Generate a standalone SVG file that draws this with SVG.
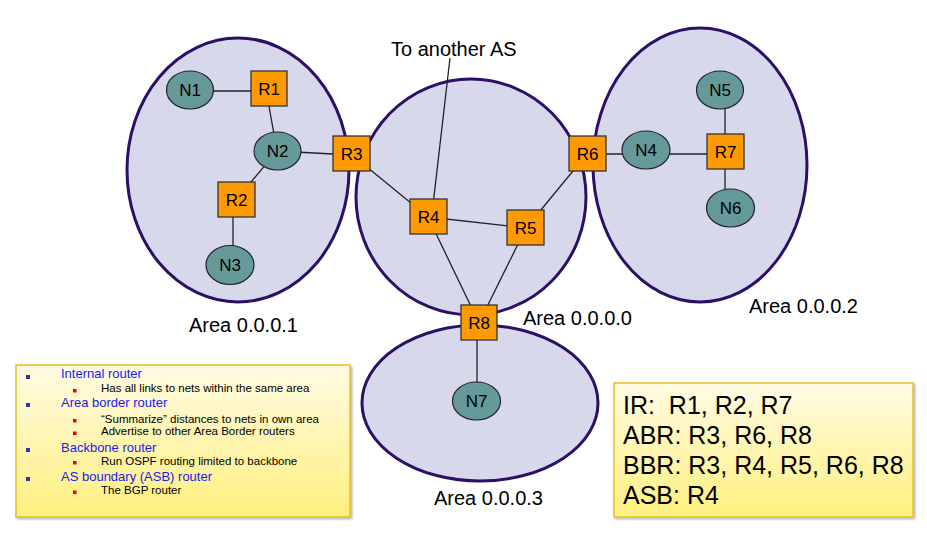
<svg xmlns="http://www.w3.org/2000/svg" width="927" height="533" viewBox="0 0 927 533">
<style>
.area{fill:#d8d8ec;stroke:#2e0f66;stroke-width:3}
.rt{fill:#ff9900;stroke:#333;stroke-width:1.3}
.net{fill:#669999;stroke:#222;stroke-width:1.2}
.lbl{font-family:"Liberation Sans",Arial,sans-serif;font-size:17px;fill:#000;text-anchor:middle}
.alb{font-family:"Liberation Sans",Arial,sans-serif;font-size:20px;fill:#000}
.ln{stroke:#222;stroke-width:1.3;fill:none}
.box{stroke:#e8c020;stroke-width:1.5}
.h{font-family:"Liberation Sans",Arial,sans-serif;font-size:13px;fill:#1a1aee}
.s{font-family:"Liberation Sans",Arial,sans-serif;font-size:11.5px;fill:#000}
.big{font-family:"Liberation Sans",Arial,sans-serif;font-size:25px;fill:#000;white-space:pre}
.bb{fill:#3333aa}
.rb{fill:#ee0000}
</style>
<defs>
<linearGradient id="yg" x1="0" y1="0" x2="0" y2="1">
<stop offset="0" stop-color="#fffbe4"/>
<stop offset="1" stop-color="#fff07e"/>
</linearGradient>
<filter id="sh" x="-5%" y="-5%" width="110%" height="110%">
<feDropShadow dx="1.5" dy="1.5" stdDeviation="1" flood-color="#000" flood-opacity="0.3"/>
</filter>
</defs>
<g id="areas">
<ellipse id="area1" class="area" cx="238" cy="170" rx="111" ry="132"/>
<ellipse id="area0" class="area" cx="471" cy="197" rx="115" ry="118"/>
<ellipse id="area2" class="area" cx="700" cy="165" rx="107" ry="137"/>
<ellipse id="area3" class="area" cx="480" cy="403" rx="118" ry="78"/>
</g>
<g id="area-labels">
<text class="alb" x="189" y="332">Area 0.0.0.1</text>
<text class="alb" x="523" y="325">Area 0.0.0.0</text>
<text class="alb" x="749" y="313">Area 0.0.0.2</text>
<text class="alb" x="434" y="505">Area 0.0.0.3</text>
<text class="alb" x="391" y="56">To another AS</text>
</g>
<g id="connectors">
<line class="ln" x1="190" y1="91" x2="269" y2="91"/>
<line class="ln" x1="267" y1="95" x2="277" y2="151"/>
<line class="ln" x1="277" y1="151" x2="351" y2="155"/>
<line class="ln" x1="277" y1="151" x2="236" y2="200"/>
<line class="ln" x1="233" y1="200" x2="233" y2="265"/>
<line class="ln" x1="351" y1="154" x2="428" y2="217"/>
<line class="ln" x1="433" y1="205" x2="450" y2="58"/>
<line class="ln" x1="428" y1="217" x2="526" y2="228"/>
<line class="ln" x1="526" y1="228" x2="587" y2="154"/>
<line class="ln" x1="428" y1="217" x2="479" y2="323"/>
<line class="ln" x1="526" y1="228" x2="479" y2="323"/>
<line class="ln" x1="477" y1="323" x2="477" y2="401"/>
<line class="ln" x1="587" y1="154" x2="725" y2="154"/>
<line class="ln" x1="725" y1="90" x2="725" y2="208"/>
</g>
<g id="N1"><ellipse class="net" cx="190" cy="90" rx="23.5" ry="19"/><text class="lbl" x="190" y="96">N1</text></g>
<g id="N2"><ellipse class="net" cx="277.5" cy="151" rx="23.5" ry="19"/><text class="lbl" x="277.5" y="157">N2</text></g>
<g id="N3"><ellipse class="net" cx="230" cy="265" rx="24" ry="19.5"/><text class="lbl" x="230" y="271">N3</text></g>
<g id="N4"><ellipse class="net" cx="646" cy="150" rx="24" ry="19"/><text class="lbl" x="646" y="156">N4</text></g>
<g id="N5"><ellipse class="net" cx="720" cy="90" rx="23.5" ry="19"/><text class="lbl" x="720" y="96">N5</text></g>
<g id="N6"><ellipse class="net" cx="730.5" cy="208" rx="24" ry="19"/><text class="lbl" x="730.5" y="214">N6</text></g>
<g id="N7"><ellipse class="net" cx="476.5" cy="401" rx="24" ry="19"/><text class="lbl" x="476.5" y="407">N7</text></g>
<g id="R1"><rect class="rt" x="251" y="71" width="36" height="35"/><text class="lbl" x="269" y="95">R1</text></g>
<g id="R2"><rect class="rt" x="218" y="182" width="37" height="35"/><text class="lbl" x="236.5" y="206">R2</text></g>
<g id="R3"><rect class="rt" x="333" y="136" width="37" height="35"/><text class="lbl" x="351.5" y="160">R3</text></g>
<g id="R4"><rect class="rt" x="410" y="199" width="37" height="35"/><text class="lbl" x="428.5" y="223">R4</text></g>
<g id="R5"><rect class="rt" x="507" y="210" width="37" height="35"/><text class="lbl" x="525.5" y="234">R5</text></g>
<g id="R6"><rect class="rt" x="569" y="136" width="37" height="35"/><text class="lbl" x="587.5" y="160">R6</text></g>
<g id="R7"><rect class="rt" x="707" y="134" width="37" height="35"/><text class="lbl" x="725.5" y="158">R7</text></g>
<g id="R8"><rect class="rt" x="461" y="305" width="36" height="35"/><text class="lbl" x="479" y="329">R8</text></g>
<g id="legend">
<rect class="box" x="16" y="365" width="334" height="152" fill="url(#yg)" filter="url(#sh)"/>
<rect class="bb" x="26" y="375" width="4" height="4"/>
<text class="h" x="61" y="378">Internal router</text>
<rect class="rb" x="73" y="389" width="3.5" height="3.5"/>
<text class="s" x="101" y="392">Has all links to nets within the same area</text>
<rect class="bb" x="26" y="403" width="4" height="4"/>
<text class="h" x="61" y="407">Area border router</text>
<rect class="rb" x="73" y="419" width="3.5" height="3.5"/>
<text class="s" x="101" y="422.5">“Summarize” distances to nets in own area</text>
<rect class="rb" x="73" y="431.5" width="3.5" height="3.5"/>
<text class="s" x="101" y="435">Advertise to other Area Border routers</text>
<rect class="bb" x="26" y="448" width="4" height="4"/>
<text class="h" x="61" y="451.5">Backbone router</text>
<rect class="rb" x="73" y="461" width="3.5" height="3.5"/>
<text class="s" x="101" y="464.5">Run OSPF routing limited to backbone</text>
<rect class="bb" x="26" y="477" width="4" height="4"/>
<text class="h" x="61" y="480.5">AS boundary (ASB) router</text>
<rect class="rb" x="73" y="490.5" width="3.5" height="3.5"/>
<text class="s" x="101" y="494">The BGP router</text>
</g>
<g id="summary">
<rect class="box" x="614" y="383" width="299" height="134" fill="url(#yg)" filter="url(#sh)"/>
<text class="big" x="623" y="414">IR:  R1, R2, R7</text>
<text class="big" x="623" y="444">ABR: R3, R6, R8</text>
<text class="big" x="623" y="474">BBR: R3, R4, R5, R6, R8</text>
<text class="big" x="623" y="504">ASB: R4</text>
</g>
</svg>
